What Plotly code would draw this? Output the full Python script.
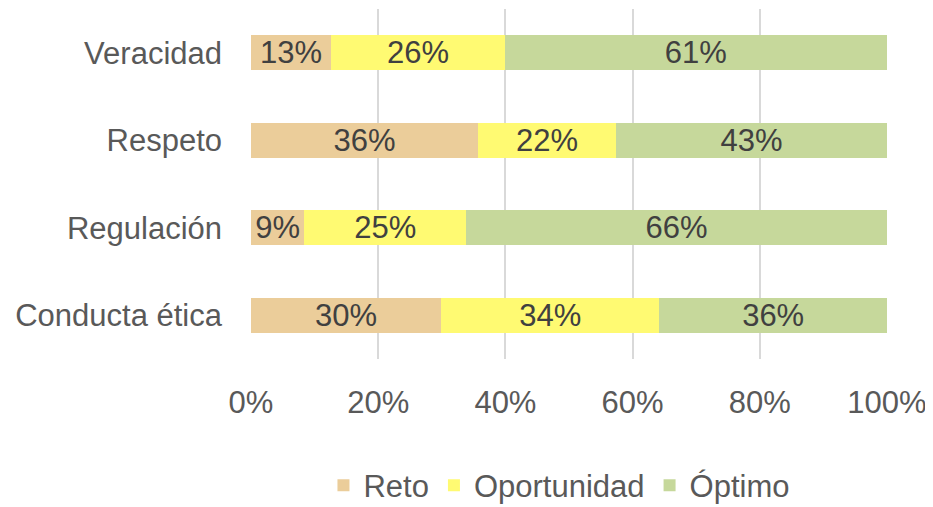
import plotly.graph_objects as go

categories = ["Veracidad", "Respeto", "Regulación", "Conducta ética"]
reto = [12.6, 35.7, 8.4, 29.9]
oportunidad = [27.3, 21.7, 25.4, 34.3]
optimo = [60.1, 42.6, 66.2, 35.8]
reto_labels = ["13%", "36%", "9%", "30%"]
oportunidad_labels = ["26%", "22%", "25%", "34%"]
optimo_labels = ["61%", "43%", "66%", "36%"]
x_ticks = [0, 20, 40, 60, 80, 100]
x_tick_labels = ["0%", "20%", "40%", "60%", "80%", "100%"]

FONT = "Liberation Sans, Arial, sans-serif"
FS = 31
series = [
    ("Reto", reto, reto_labels, "#EBCD9A"),
    ("Oportunidad", oportunidad, oportunidad_labels, "#FFFA72"),
    ("Óptimo", optimo, optimo_labels, "#C6D89B"),
]

fig = go.Figure()
for name, vals, labels, color in series:
    fig.add_trace(go.Bar(
        y=categories, x=vals, name=name, orientation="h",
        marker=dict(color=color, line=dict(width=0)),
        text=labels, textposition="inside", insidetextanchor="middle",
        textfont=dict(family=FONT, size=FS, color="#404040"),
        hoverinfo="skip",
    ))

# page body has an 8px default margin; size figure to fill the remaining window
fig.update_layout(
    barmode="stack",
    bargap=0.6,
    width=925, height=499,
    margin=dict(l=243, r=46, t=1, b=148, autoexpand=False),
    paper_bgcolor="white", plot_bgcolor="white",
    font=dict(family=FONT, size=FS, color="#595959"),
    uniformtext=dict(mode="show", minsize=FS),
    legend=dict(
        orientation="h", x=0.485, xanchor="center", y=-0.362, yanchor="middle",
        font=dict(family=FONT, size=FS, color="#595959"),
        traceorder="normal", itemwidth=30,
    ),
    showlegend=True,
)
fig.update_xaxes(
    range=[0, 100], tickvals=x_ticks, ticktext=x_tick_labels,
    showgrid=True, gridcolor="#D9D9D9", gridwidth=2,
    zeroline=False, showline=False, ticks="",
    ticklabelstandoff=22,
    tickfont=dict(family=FONT, size=FS, color="#595959"),
    automargin=False,
)
fig.update_yaxes(
    categoryorder="array", categoryarray=categories, autorange="reversed",
    showgrid=False, zeroline=False, showline=False, ticks="",
    ticklabelstandoff=28,
    tickfont=dict(family=FONT, size=FS, color="#595959"),
    automargin=False,
)

fig.write_html("out.html")
